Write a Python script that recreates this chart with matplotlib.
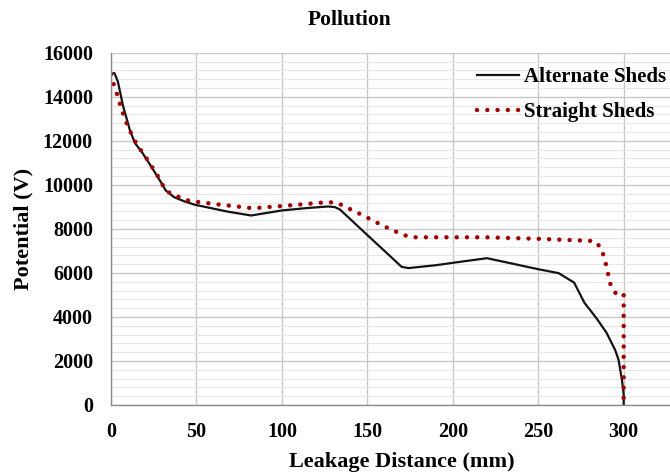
import matplotlib.pyplot as plt
from matplotlib.ticker import MultipleLocator

# Leakage distance (mm) and potential (V)
alt_x = [0, 2, 4, 7, 11, 14, 18, 23, 29, 32, 37, 43, 49, 60, 68, 82, 100, 115,
         127, 131, 134, 142, 150, 162, 170, 174, 190, 201, 220, 235, 250, 262,
         271, 277, 284, 290, 295, 297, 299, 300, 300]
alt_y = [15050, 15080, 14700, 13600, 12500, 11900, 11500, 10900, 10150, 9750,
         9440, 9250, 9100, 8920, 8790, 8610, 8840, 8950, 9020, 8990, 8880, 8300,
         7720, 6860, 6280, 6220, 6350, 6470, 6670, 6420, 6170, 5990, 5560, 4650,
         3950, 3280, 2500, 2060, 1140, 500, 0]

str_x = [0, 1.4, 3.3, 6.3, 10, 15, 21, 27, 32, 37, 46, 62, 83, 100, 126, 132,
         137, 146, 160, 171, 176, 219, 250, 283, 287, 290, 292, 295, 300, 300]
str_y = [15030, 14620, 14170, 13400, 12620, 11850, 11180, 10450, 9740, 9530,
         9270, 9120, 8940, 9040, 9210, 9200, 9010, 8670, 8110, 7730, 7620, 7620,
         7550, 7450, 7120, 6290, 5530, 5100, 5080, 0]

x_ticks = [0, 50, 100, 150, 200, 250, 300]
series_names = ["Alternate Sheds", "Straight Sheds"]

plt.rcParams['font.family'] = ['Liberation Serif', 'DejaVu Serif']
plt.rcParams['font.weight'] = 'bold'

fig = plt.figure(figsize=(6.7, 4.72), dpi=100)
ax = fig.add_axes([0.1657, 0.142, 0.834, 0.746])

ax.plot(alt_x, alt_y, color='#141414', linewidth=1.6, label=series_names[0],
        solid_joinstyle='round')
ax.plot(str_x, str_y, color='#a30000', linewidth=3.2, linestyle=(0, (0.01, 2.3)),
        dash_capstyle='round', label=series_names[1])

ax.set_xlim(0, 327)
ax.set_ylim(0, 16000)
ax.set_xticks(x_ticks)
ax.yaxis.set_major_locator(MultipleLocator(2000))
ax.yaxis.set_minor_locator(MultipleLocator(400))

ax.grid(which='major', color='#c8c8c8', linewidth=1.0)
ax.grid(which='minor', axis='y', color='#e6e6e6', linewidth=0.8)
ax.set_axisbelow(True)

for side in ['top', 'right']:
    ax.spines[side].set_visible(False)
for side in ['left', 'bottom']:
    ax.spines[side].set_color('#8c8c8c')
    ax.spines[side].set_linewidth(1.0)

ax.tick_params(axis='both', which='both', length=0, labelsize=14.5)
ax.tick_params(axis='y', pad=13)
ax.tick_params(axis='x', pad=12)

ax.set_xlabel("Leakage Distance (mm)", fontsize=16, fontweight='bold', va='center')
ax.xaxis.set_label_coords(0.52, -0.162)
ax.set_ylabel("Potential (V)", fontsize=16, fontweight='bold', va='center')
ax.yaxis.set_label_coords(-0.156, 0.5)

fig.text(0.521, 0.958, "Pollution", ha='center', va='center', fontsize=15.5,
         fontweight='bold')

leg = fig.legend(loc='upper left', bbox_to_anchor=(477 / 670, 1 - 67 / 472),
                 frameon=False, fontsize=15, handlelength=2.0, handletextpad=0.25,
                 labelspacing=0.72, borderpad=0, borderaxespad=0)

fig.savefig("out.png", dpi=100)
